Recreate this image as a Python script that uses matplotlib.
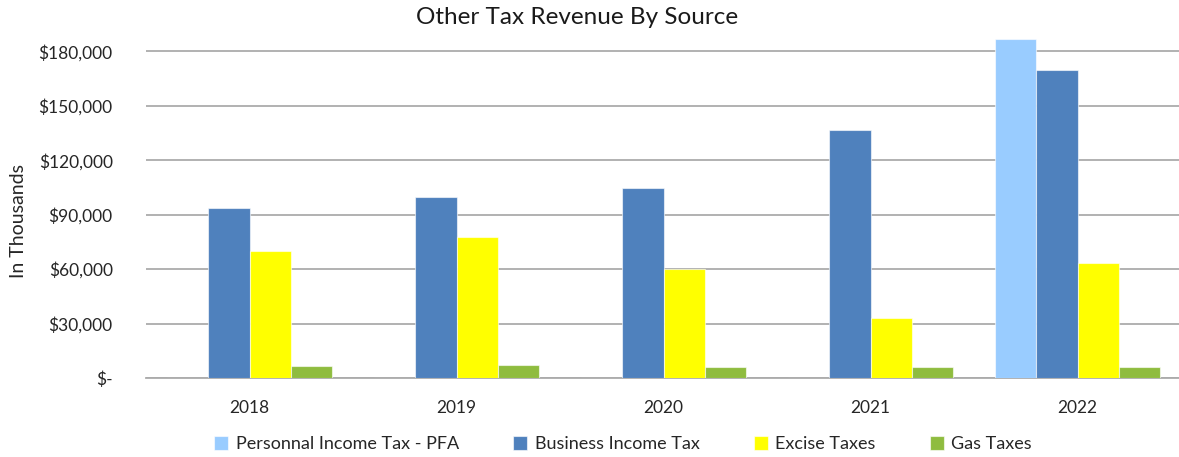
import numpy as np
import matplotlib.pyplot as plt
from matplotlib.ticker import FuncFormatter, MultipleLocator

# values in thousands of dollars
years = ["2018", "2019", "2020", "2021", "2022"]
personal_pfa = [0, 0, 0, 0, 187000]
business = [93500, 99500, 104500, 136500, 169500]
excise = [70000, 77500, 60000, 33000, 63500]
gas = [6500, 7000, 6000, 6000, 6000]

series = [
    ("Personnal Income Tax - PFA", personal_pfa, "#99CCFF"),
    ("Business Income Tax", business, "#4F81BD"),
    ("Excise Taxes", excise, "#FFFF00"),
    ("Gas Taxes", gas, "#8FBC3F"),
]

plt.rcParams["font.family"] = ["Lato", "DejaVu Sans"]
W, H = 1179, 457
fig = plt.figure(figsize=(W / 100, H / 100), dpi=100)
ax = fig.add_axes([146 / W, (H - 378) / H, 1035 / W, 363 / H])

x = np.arange(len(years))
bw = 0.2
for i, (name, vals, col) in enumerate(series):
    ax.bar(x + (i - 1.5) * bw, vals, width=bw, color=col, label=name,
           edgecolor=(1, 1, 1, 0.6), linewidth=0.8, zorder=3)

ax.set_xlim(-0.5, len(years) - 0.5)
ax.set_ylim(0, 200000)
ax.yaxis.set_major_locator(MultipleLocator(30000))
ax.yaxis.set_major_formatter(FuncFormatter(lambda v, _: "$-" if v == 0 else f"${v:,.0f}"))
ax.set_xticks(x)
ax.set_xticklabels(years)
ax.tick_params(axis="both", length=0, labelsize=12.5, colors="#262626")
ax.tick_params(axis="x", pad=16)
ax.tick_params(axis="y", pad=24)
ax.grid(axis="y", color="#ABABAB", linewidth=1.3, zorder=0)
for s in ["top", "right", "left"]:
    ax.spines[s].set_visible(False)
ax.spines["bottom"].set_color("#ABABAB")
ax.spines["bottom"].set_linewidth(1.3)

fig.text(577 / W, 1 - 18 / H, "Other Tax Revenue By Source", ha="center", va="center",
         fontsize=17.5, color="#1a1a1a")
fig.text(19 / W, 1 - 221 / H, "In Thousands", rotation=90, ha="center", va="center",
         fontsize=14, color="#262626")

fig.legend(loc="center", bbox_to_anchor=(623 / W, 1 - 444 / H), ncol=4, frameon=False,
           fontsize=13, handlelength=0.8, handleheight=0.8, handletextpad=0.4,
           columnspacing=3.0, labelcolor="#262626")

fig.savefig("out.png", dpi=100, facecolor="white")
